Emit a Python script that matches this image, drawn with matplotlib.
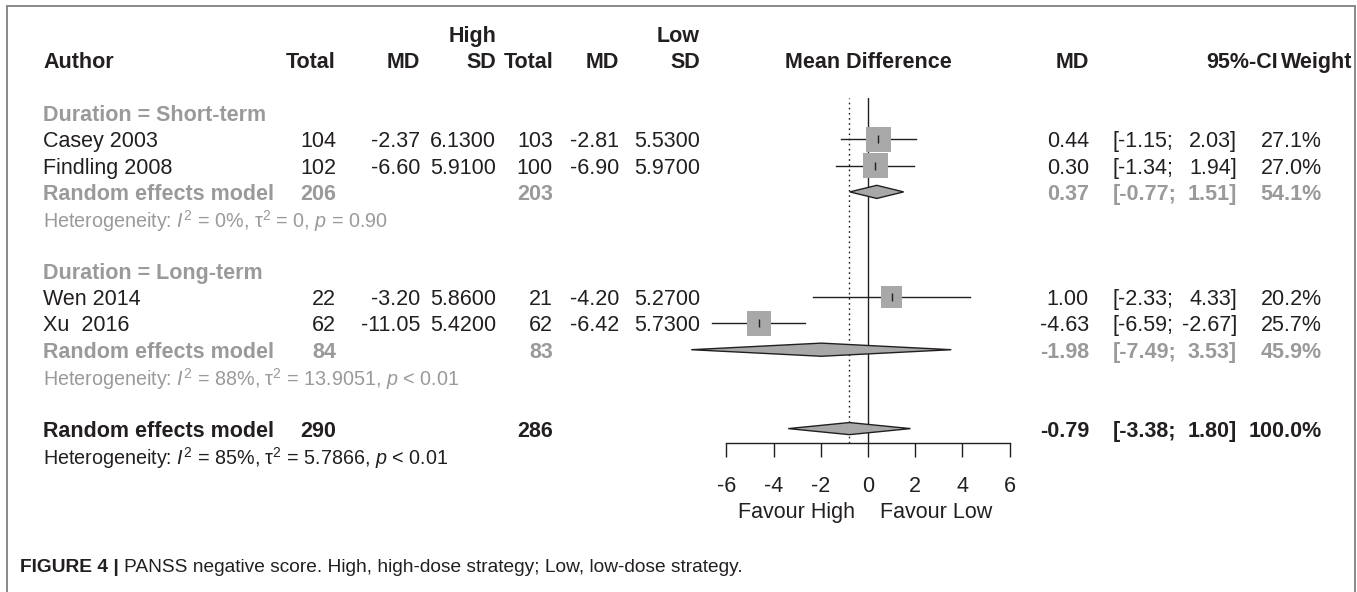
import numpy as np
import matplotlib
matplotlib.use("Agg")
import matplotlib.pyplot as plt
from matplotlib import transforms

# ---------------- data ----------------
studies = ["Casey 2003", "Findling 2008", "Wen 2014", "Xu  2016"]
study_rows = [1, 2, 7, 8]
high_total = [104, 102, 22, 62]
high_md = [-2.37, -6.60, -3.20, -11.05]
high_sd = [6.13, 5.91, 5.86, 5.42]
low_total = [103, 100, 21, 62]
low_md = [-2.81, -6.90, -4.20, -6.42]
low_sd = [5.53, 5.97, 5.27, 5.73]
md = [0.44, 0.30, 1.00, -4.63]
ci_lo = [-1.15, -1.34, -2.33, -6.59]
ci_hi = [2.03, 1.94, 4.33, -2.67]
weight = [27.1, 27.0, 20.2, 25.7]

subgroups = ["Duration = Short-term", "Duration = Long-term"]
sub_head_rows = [0, 6]
sub_rows = [3, 9]
sub_total_high = [206, 84]
sub_total_low = [203, 83]
sub_md = [0.37, -1.98]
sub_lo = [-0.77, -7.49]
sub_hi = [1.51, 3.53]
sub_w = [54.1, 45.9]
sub_i2 = ["0%", "88%"]
sub_tau2 = ["0", "13.9051"]
sub_p = ["= 0.90", "< 0.01"]

overall_row = 12
overall_total_high = 290
overall_total_low = 286
overall_md = -0.79
overall_lo = -3.38
overall_hi = 1.80
overall_w = 100.0
overall_i2 = "85%"
overall_tau2 = "5.7866"
overall_p = "< 0.01"

xticks = [-6, -4, -2, 0, 2, 4, 6]

# ---------------- style ----------------
plt.rcParams["font.family"] = ["Liberation Sans", "DejaVu Sans"]
plt.rcParams["mathtext.fontset"] = "custom"
plt.rcParams["mathtext.rm"] = "Liberation Sans"
plt.rcParams["mathtext.it"] = "Liberation Sans:italic"
plt.rcParams["mathtext.bf"] = "Liberation Sans:bold"

BLACK = "#231F20"
GRAY = "#9A9A9A"
SQ = "#A8A8A8"
FS = 15.5
FS_HET = 14.2

W, H, DPI = 1357, 592, 100
ROW0, ROWH = 113.0, 26.3          # pixel y of row 0, pixels per row
X0, XS = 868.0, 23.6              # pixel x of MD=0, pixels per unit


def rowof(py):
    return (py - ROW0) / ROWH


fig = plt.figure(figsize=(W / DPI, H / DPI), dpi=DPI)
fig.patch.set_facecolor("white")

# text layer (x in pixels, y in rows)
ax = fig.add_axes([0, 0, 1, 1])
ax.set_xlim(0, W)
ax.set_ylim(rowof(H), rowof(0))
ax.axis("off")

# frame (open at bottom)
ax.plot([7, 7, 1355, 1355], [rowof(H + 5), rowof(6), rowof(6), rowof(H + 5)],
        color="#808080", lw=1.3, clip_on=False, solid_joinstyle="miter")

# forest axes
AX_L, AX_R, AX_T, AX_B = 600, 1100, 98, 443
axf = fig.add_axes([AX_L / W, (H - AX_B) / H, (AX_R - AX_L) / W, (AX_B - AX_T) / H])
axf.set_xlim((AX_L - X0) / XS, (AX_R - X0) / XS)
axf.set_ylim(rowof(AX_B), rowof(AX_T))
axf.patch.set_visible(False)
for s in ["top", "left", "right"]:
    axf.spines[s].set_visible(False)
axf.spines["bottom"].set_bounds(xticks[0], xticks[-1])
axf.spines["bottom"].set_color(BLACK)
axf.spines["bottom"].set_linewidth(1.0)
axf.set_yticks([])
axf.set_xticks(xticks)
axf.set_xticklabels([str(t) for t in xticks])
axf.tick_params(axis="x", direction="out", length=10, width=1.0, color=BLACK,
                labelsize=FS, labelcolor=BLACK, pad=14)

# reference lines
axf.axvline(0, color=BLACK, lw=1.0, zorder=1)
axf.axvline(overall_md, color=BLACK, lw=1.0, ls=(0, (1.2, 2.5)), zorder=1)

# study CI lines, squares, ticks
for r, m, lo, hi in zip(study_rows, md, ci_lo, ci_hi):
    axf.plot([lo, hi], [r, r], color=BLACK, lw=1.0, zorder=2, clip_on=False)
axf.scatter(md, study_rows, s=12.0 * np.array(weight), marker="s", color=SQ,
            linewidths=0, zorder=3, clip_on=False)
axf.scatter(md, study_rows, s=30, marker="|", color=BLACK, linewidths=1.0,
            zorder=4, clip_on=False)


def diamond(m, lo, hi, r, h=0.25):
    axf.fill([lo, m, hi, m, lo], [r, r - h, r, r + h, r], facecolor=SQ,
             edgecolor=BLACK, lw=1.0, zorder=3, clip_on=False)


for r, m, lo, hi in zip(sub_rows, sub_md, sub_lo, sub_hi):
    diamond(m, lo, hi, r)
diamond(overall_md, overall_lo, overall_hi, overall_row, h=0.23)

# x-axis labels
bt = transforms.blended_transform_factory(axf.transData, ax.transData)
ax.text(-0.55, rowof(510), "Favour High", transform=bt, ha="right",
        va="center_baseline", fontsize=FS, color=BLACK)
ax.text(0.5, rowof(510), "Favour Low", transform=bt, ha="left",
        va="center_baseline", fontsize=FS, color=BLACK)
ax.text(0, -2, "Mean Difference", transform=bt, ha="center",
        va="center_baseline", fontsize=FS, color=BLACK, fontweight="bold")

# ---------------- text columns ----------------
C_AUTHOR = 43
C_HT, C_HMD, C_HSD = 336, 420, 496
C_LT, C_LMD, C_LSD = 553, 619, 700
C_MD, C_CIL, C_CIR, C_W = 1089, 1113, 1237, 1322


def txt(x, r, s, ha="right", color=BLACK, bold=False, fs=FS):
    ax.text(x, r, s, ha=ha, va="center_baseline", fontsize=fs, color=color,
            fontweight="bold" if bold else "normal")


# headers
txt(C_HSD, -3, "High", bold=True)
txt(C_LSD, -3, "Low", bold=True)
txt(C_AUTHOR, -2, "Author", ha="left", bold=True)
for x, s in [(C_HT, "Total"), (C_HMD, "MD"), (C_HSD, "SD"), (C_LT, "Total"),
             (C_LMD, "MD"), (C_LSD, "SD"), (C_MD, "MD"), (1278, "95%-CI"),
             (1352, "Weight")]:
    txt(x, -2, s, bold=True)


def ci_text(r, lo, hi, color=BLACK, bold=False):
    txt(C_CIL, r, f"[{lo:.2f};", ha="left", color=color, bold=bold)
    txt(C_CIR, r, f"{hi:.2f}]", color=color, bold=bold)


# studies
for i, r in enumerate(study_rows):
    txt(C_AUTHOR, r, studies[i], ha="left")
    txt(C_HT, r, f"{high_total[i]}")
    txt(C_HMD, r, f"{high_md[i]:.2f}")
    txt(C_HSD, r, f"{high_sd[i]:.4f}")
    txt(C_LT, r, f"{low_total[i]}")
    txt(C_LMD, r, f"{low_md[i]:.2f}")
    txt(C_LSD, r, f"{low_sd[i]:.4f}")
    txt(C_MD, r, f"{md[i]:.2f}")
    ci_text(r, ci_lo[i], ci_hi[i])
    txt(C_W, r, f"{weight[i]:.1f}%")


def het(r, i2, tau2, p, color):
    s = (r"Heterogeneity: $\mathit{I}^2$ = " + i2 + r", $\mathrm{\tau}^2$ = "
         + tau2 + r", $\mathit{p}$ " + p)
    txt(C_AUTHOR, r, s, ha="left", color=color, fs=FS_HET)


# subgroups
for k in range(2):
    txt(C_AUTHOR, sub_head_rows[k], subgroups[k], ha="left", color=GRAY, bold=True)
    r = sub_rows[k]
    txt(C_AUTHOR, r, "Random effects model", ha="left", color=GRAY, bold=True)
    txt(C_HT, r, f"{sub_total_high[k]}", color=GRAY, bold=True)
    txt(C_LT, r, f"{sub_total_low[k]}", color=GRAY, bold=True)
    txt(C_MD, r, f"{sub_md[k]:.2f}", color=GRAY, bold=True)
    ci_text(r, sub_lo[k], sub_hi[k], color=GRAY, bold=True)
    txt(C_W, r, f"{sub_w[k]:.1f}%", color=GRAY, bold=True)
    het(r + 1, sub_i2[k], sub_tau2[k], sub_p[k], GRAY)

# overall
r = overall_row
txt(C_AUTHOR, r, "Random effects model", ha="left", bold=True)
txt(C_HT, r, f"{overall_total_high}", bold=True)
txt(C_LT, r, f"{overall_total_low}", bold=True)
txt(C_MD, r, f"{overall_md:.2f}", bold=True)
ci_text(r, overall_lo, overall_hi, bold=True)
txt(C_W, r, f"{overall_w:.1f}%", bold=True)
het(r + 1, overall_i2, overall_tau2, overall_p, BLACK)

# caption
t1 = ax.text(20, rowof(572), "FIGURE 4 | ", ha="left", va="baseline",
             fontsize=13.8, color=BLACK, fontweight="bold")
ax.annotate("PANSS negative score. High, high-dose strategy; Low, low-dose strategy.",
            xy=(1, 0), xycoords=t1, xytext=(0, 0), textcoords="offset points",
            ha="left", va="bottom", fontsize=13.8, color=BLACK)

fig.savefig("out.png", dpi=DPI, facecolor="white")
